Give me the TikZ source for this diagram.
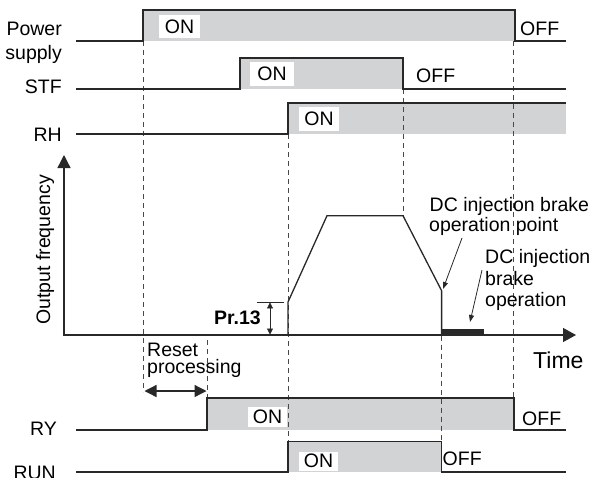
\documentclass[tikz,border=0pt]{standalone}
\usepackage{fontspec}
\setmainfont{Liberation Sans}
\usepackage{xcolor}
\usepackage{tikz}
\usetikzlibrary{arrows.meta}

\definecolor{ongray}{RGB}{209,211,212}
\definecolor{ink}{RGB}{40,40,40}

\begin{document}
\begin{tikzpicture}[x=1pt, y=-1pt,
    sig/.style={draw=ink, line width=1.3pt},
    guide/.style={draw=ink!85, line width=0.8pt, dash pattern=on 5pt off 4pt},
    lbl/.style={inner sep=0pt, font=\fontsize{19.5}{21}\selectfont},
    onbox/.style={lbl, fill=white, minimum width=40pt, minimum height=23pt},
    tip/.style={-{Triangle[width=5pt,length=7pt]}, draw=ink, line width=0.8pt}]
    \useasboundingbox (0,0) rectangle (593,477);

    % gray ON phases
    \fill[ongray] (143,10) rectangle (515,41);
    \fill[ongray] (240,58) rectangle (403,89);
    \fill[ongray] (288,103) rectangle (566,134);
    \fill[ongray] (207,398) rectangle (514,430);
    \fill[ongray] (288,441.7) rectangle (441.6,472);

    % dashed guides
    \draw[guide] (143,41) -- (143,392);
    \draw[guide] (207,340) -- (207,398);
    \draw[guide] (288,134) -- (288,441.7);
    \draw[guide] (403,89) -- (403,215.7);
    \draw[guide] (441.6,290.7) -- (441.6,441.7);
    \draw[guide] (513,41) -- (513,398);

    % signals
    \draw[sig] (76,41) -- (143,41) -- (143,10) -- (515,10) -- (515,41) -- (566,41);
    \draw[sig] (76,89) -- (240,89) -- (240,58) -- (403,58) -- (403,89) -- (566,89);
    \draw[sig] (76,134) -- (288,134) -- (288,103) -- (566,103);
    \draw[sig] (76,430) -- (207,430) -- (207,398) -- (514,398) -- (514,430) -- (566,430);
    \draw[sig] (76,472) -- (288,472) -- (288,441.7) -- (441.6,441.7) -- (441.6,472) -- (566,472);

    \node[onbox, minimum width=41pt] (psOn) at (179.5,26.5) {ON};
    \node[onbox, minimum width=44pt, minimum height=24pt] (stfOn) at (272,74) {ON};
    \node[onbox, minimum height=24pt] (rhOn) at (319,119) {ON};
    \node[onbox, minimum width=39pt, minimum height=20pt] (ryOn) at (267.5,417) {ON};
    \node[onbox, minimum width=39pt, minimum height=19pt] (runOn) at (318.5,461) {ON};

    \node[lbl, anchor=base west] (psOff) at (520,35) {OFF};
    \node[lbl, anchor=base west] (stfOff) at (416,82) {OFF};
    \node[lbl, anchor=base west] (ryOff) at (522,425) {OFF};
    \node[lbl, anchor=base west] (runOff) at (442.5,465) {OFF};

    % signal names
    \node[lbl, anchor=base east] (ps1) at (62,35.3) {Power};
    \node[lbl, anchor=base east] (ps2) at (62,59.3) {supply};
    \node[lbl, anchor=base east] (stf) at (62,93) {STF};
    \node[lbl, anchor=base east] (rh) at (62,141.7) {RH};
    \node[lbl, anchor=base east] (ry) at (57,435) {RY};
    \node[lbl, anchor=base east] (run) at (56,479) {RUN};

    % frequency axes and curve
    \draw[sig, {Triangle[width=13pt,length=13pt]}-{Triangle[width=14pt,length=13pt]}]
        (64,155) -- (64,335) -- (576,335);
    \node[lbl, rotate=90, anchor=base west] (ofq) at (50,325) {Output frequency};
    \node[lbl, anchor=base west, font=\fontsize{23}{25}\selectfont] (time) at (533,368.3) {Time};
    \draw[sig] (288,335) -- (288,302) -- (327,215.7) -- (403,215.7) -- (441.6,290.7) -- (441.6,335);
    \fill[ink] (441.6,328.5) rectangle (484,336);

    % Pr.13 level
    \draw[ink, line width=0.7pt] (257,302) -- (284,302);
    \draw[ink, line width=0.7pt, {Triangle[width=6pt,length=6pt]}-{Triangle[width=6pt,length=6pt]}]
        (270,302.4) -- (270,334.5);
    \node[lbl, anchor=base east, font=\bfseries\fontsize{19.5}{21}\selectfont] (pr) at (261,324.3) {Pr.13};

    % reset processing
    \node[lbl, anchor=base west] (rst1) at (147,356.7) {Reset};
    \node[lbl, anchor=base west] (rst2) at (147,373.8) {processing};
    \draw[ink, line width=1.3pt, {Triangle[width=12pt,length=12pt]}-{Triangle[width=12pt,length=12pt]}]
        (144.5,391) -- (206.5,391);

    % DC injection brake notes
    \node[lbl, anchor=base west] (dc1) at (429.5,211) {DC injection brake};
    \node[lbl, anchor=base west] (dc2) at (429,231.7) {operation point};
    \coordinate (dcPt) at (443,289);
    \draw[tip] (462,238) -- (dcPt);
    \node[lbl, anchor=base west] (op1) at (485,263.3) {DC injection};
    \node[lbl, anchor=base west] (op2) at (485,285) {brake};
    \node[lbl, anchor=base west] (op3) at (485,306) {operation};
    \coordinate (opPt) at (470,322);
    \draw[tip] (482,270) -- (opPt);
\end{tikzpicture}
\end{document}
